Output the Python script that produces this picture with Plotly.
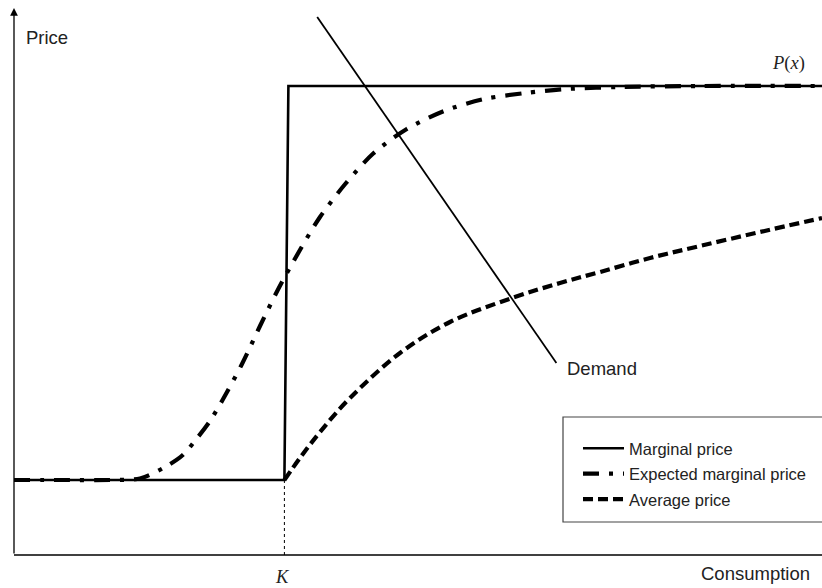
import plotly.graph_objects as go

# Consumption / price in arbitrary units
LOW_PRICE = 15.0
HIGH_PRICE = 93.8
K = 33.8

marginal_x = [0.0, K, 34.3, 101.0]
marginal_y = [LOW_PRICE, LOW_PRICE, HIGH_PRICE, HIGH_PRICE]

expected_x = [0.0, 6.0, 12.0, 15.75, 19.1, 21.1, 23.0, 24.5, 26.0, 28.5, 30.75, 33.1, 35.6,
              38.25, 41.4, 44.9, 49.1, 53.75, 58.75, 64.0, 69.1, 75.75, 85.75, 101.0]
expected_y = [15.0, 15.0, 15.0, 15.3, 17.8, 20.0, 23.6, 26.8, 30.8, 38.2, 45.8, 53.4, 60.6,
              67.6, 74.2, 80.3, 85.2, 88.8, 91.2, 92.4, 93.2, 93.6, 93.8, 93.8]

average_x = [K, 35.75, 38.25, 42.0, 48.25, 54.5, 62.25, 68.25, 73.25, 79.5, 85.75, 93.25, 101.0]
average_y = [15.0, 19.4, 24.6, 31.4, 40.4, 46.6, 51.4, 54.4, 56.6, 59.4, 61.8, 64.6, 67.4]

demand_x = [37.9, 67.8]
demand_y = [107.6, 38.4]

X_RANGE = [-1.75, 101.0]
Y_RANGE = [-6.6, 111.0]

SANS = "Liberation Sans, Arial, sans-serif"
SERIF = "Liberation Serif, Times New Roman, serif"
TEXT = "#222"
LABEL_SIZE = 18.5

fig = go.Figure()

fig.add_trace(go.Scatter(x=marginal_x, y=marginal_y, mode="lines",
                         name="Marginal price", legendgroup="a",
                         line=dict(color="black", width=2.6)))
fig.add_trace(go.Scatter(x=expected_x, y=expected_y, mode="lines", line_shape="spline",
                         name="Expected marginal price", legendgroup="b",
                         line=dict(color="black", width=4.2, smoothing=0.8,
                                   dash="16px,10px,4px,10px")))
fig.add_trace(go.Scatter(x=average_x, y=average_y, mode="lines", line_shape="spline",
                         name="Average price", legendgroup="c",
                         line=dict(color="black", width=4.2, dash="10px,5px")))
fig.add_trace(go.Scatter(x=demand_x, y=demand_y, mode="lines", showlegend=False,
                         line=dict(color="black", width=1.8)))

# axes
fig.add_shape(type="line", x0=0, y0=0, x1=X_RANGE[1], y1=0,
              line=dict(color="black", width=1.3))
fig.add_annotation(x=0, y=109.4, ax=0, ay=0, xref="x", yref="y", axref="x", ayref="y",
                   showarrow=True, arrowhead=2, arrowsize=1.2, arrowwidth=1.3,
                   arrowcolor="black", text="")
# dotted marker at K
fig.add_shape(type="line", x0=K, y0=0, x1=K, y1=LOW_PRICE,
              line=dict(color="black", width=1, dash="dot"))

fig.add_annotation(x=1.3, y=103.6, xref="x", yref="y", text="Price", showarrow=False,
                   xanchor="left", yanchor="middle",
                   font=dict(family=SANS, size=LABEL_SIZE, color=TEXT))
fig.add_annotation(x=99.75, y=-3.6, xref="x", yref="y", text="Consumption",
                   showarrow=False, xanchor="right", yanchor="middle",
                   font=dict(family=SANS, size=LABEL_SIZE, color=TEXT))
fig.add_annotation(x=K - 0.2, y=-4.4, xref="x", yref="y", text="<i>K</i>", showarrow=False,
                   xanchor="center", yanchor="middle",
                   font=dict(family=SERIF, size=LABEL_SIZE, color=TEXT))
fig.add_annotation(x=96.75, y=98.4, xref="x", yref="y", text="<i>P</i>(<i>x</i>)",
                   showarrow=False, xanchor="center", yanchor="middle",
                   font=dict(family=SERIF, size=LABEL_SIZE, color=TEXT))
fig.add_annotation(x=demand_x[1] + 1.1, y=demand_y[1] - 1.0, xref="x", yref="y",
                   text="Demand", showarrow=False, xanchor="left", yanchor="middle",
                   font=dict(family=SANS, size=LABEL_SIZE, color=TEXT))

# legend frame
fig.add_shape(type="rect", xref="paper", yref="paper", x0=563 / 822, x1=1.01,
              y0=1 - 522 / 588, y1=1 - 417 / 588,
              line=dict(color="#444", width=1.2), fillcolor="rgba(0,0,0,0)")

fig.update_layout(
    width=822, height=588,
    margin=dict(l=0, r=0, t=0, b=0),
    paper_bgcolor="white", plot_bgcolor="white",
    xaxis=dict(range=X_RANGE, visible=False),
    yaxis=dict(range=Y_RANGE, visible=False),
    showlegend=True,
    legend=dict(x=578 / 822, y=1 - 431 / 588, xanchor="left", yanchor="top",
                bgcolor="rgba(0,0,0,0)", borderwidth=0, tracegroupgap=1, itemwidth=41,
                font=dict(family=SANS, size=16.5, color=TEXT)),
)

fig.write_html("out.html")
